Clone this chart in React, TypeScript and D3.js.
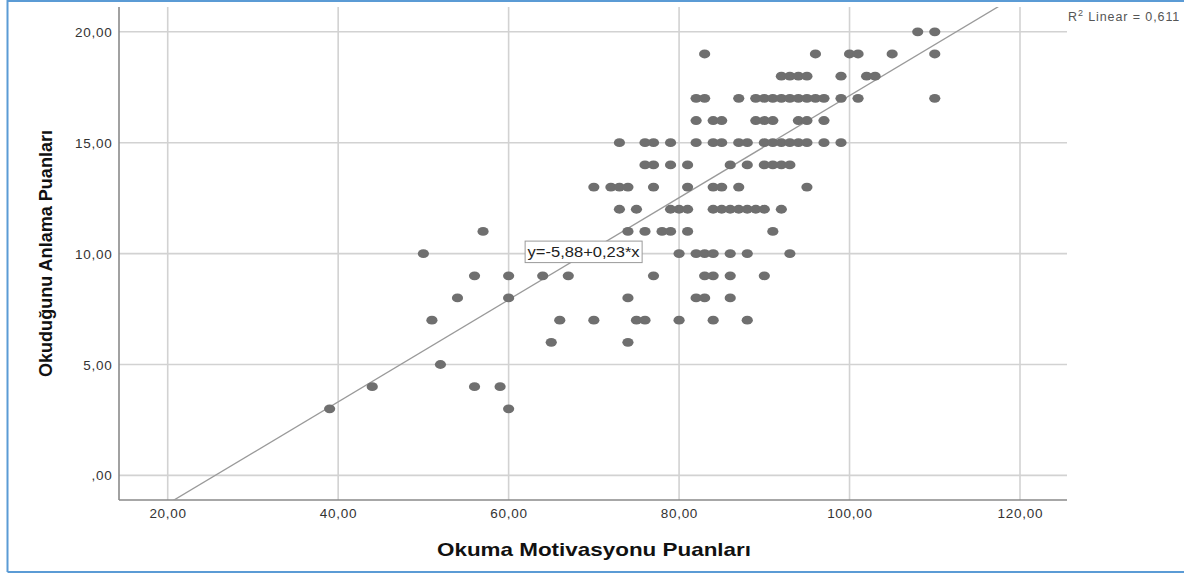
import React from "react";
import * as d3 from "d3";

// Okuduğunu Anlama Puanları levels (y) and the Okuma Motivasyonu Puanları (x) observed at each level
const comprehensionLevels = [3, 4, 5, 6, 7, 8, 9, 10, 11, 12, 13, 14, 15, 16, 17, 18, 19, 20];
const motivationByLevel: number[][] = [
  [39, 60],
  [44, 56, 59],
  [52],
  [65, 74],
  [51, 66, 70, 75, 76, 80, 84, 88],
  [54, 60, 74, 82, 83, 86],
  [56, 60, 64, 67, 77, 83, 84, 86, 90],
  [50, 80, 82, 83, 84, 86, 88, 93],
  [57, 74, 76, 78, 79, 81, 91],
  [73, 75, 79, 80, 81, 84, 85, 86, 87, 88, 89, 90, 92],
  [70, 72, 73, 74, 77, 81, 84, 85, 87, 95],
  [76, 77, 79, 81, 86, 88, 90, 91, 92, 93],
  [73, 76, 77, 79, 82, 84, 85, 87, 88, 90, 91, 92, 93, 94, 95, 97, 99],
  [82, 84, 85, 89, 90, 91, 94, 95, 97],
  [82, 83, 87, 89, 90, 91, 92, 93, 94, 95, 96, 97, 99, 101, 110],
  [92, 93, 94, 95, 99, 102, 103],
  [83, 96, 100, 101, 105, 110],
  [108, 110],
];

const xTicks = [20, 40, 60, 80, 100, 120];
const yTicks = [0, 5, 10, 15, 20];
const intercept = -5.88;
const slope = 0.23;
const rSquared = "0,611";

const W = 1184;
const H = 573;
const plotLeft = 119;
const plotRight = 1067;
const plotTop = 7;
const plotBottom = 500;

const FONT = "'Liberation Sans', Arial, sans-serif";

const fmt = (v: number) => (v === 0 ? ",00" : v.toFixed(2).replace(".", ","));

export default function App() {
  const x = d3.scaleLinear().domain([20, 120]).range([167.7, 1020]);
  const y = d3.scaleLinear().domain([0, 20]).range([475.4, 31.8]);

  const points = comprehensionLevels.flatMap((lvl, i) =>
    motivationByLevel[i].map((m) => ({ m, lvl }))
  );

  const xMin = x.invert(plotLeft);
  const xMax = x.invert(plotRight);
  const line = d3
    .line<number>()
    .x((d) => x(d))
    .y((d) => y(intercept + slope * d));

  const labelX = 68.8;
  const labelY = 10;

  return (
    <svg
      width={W}
      height={H}
      style={{ position: "absolute", left: 0, top: 0, background: "#fff" }}
      fontFamily={FONT}
    >
      <defs>
        <clipPath id="plotClip">
          <rect x={plotLeft} y={plotTop} width={plotRight - plotLeft} height={plotBottom - plotTop} />
        </clipPath>
      </defs>
      <rect x={0} y={0} width={W} height={H} fill="#fff" />
      {/* frame */}
      <line x1={7.5} y1={0} x2={7.5} y2={572} stroke="#5b9bd5" strokeWidth={2} />
      <line x1={7.5} y1={1} x2={W} y2={1} stroke="#5b9bd5" strokeWidth={2} />
      <line x1={7.5} y1={572} x2={W} y2={572} stroke="#5b9bd5" strokeWidth={2} />

      {/* grid */}
      {xTicks.map((t) => (
        <line key={"gx" + t} x1={x(t)} x2={x(t)} y1={plotTop} y2={plotBottom} stroke="#d2d2d2" strokeWidth={1.6} />
      ))}
      {yTicks.map((t) => (
        <line key={"gy" + t} x1={plotLeft} x2={plotRight} y1={y(t)} y2={y(t)} stroke="#d2d2d2" strokeWidth={1.6} />
      ))}

      {/* axes */}
      <line x1={plotLeft} x2={plotLeft} y1={plotTop} y2={plotBottom} stroke="#8a8a8a" strokeWidth={1.6} />
      <line x1={plotLeft} x2={plotRight} y1={plotBottom} y2={plotBottom} stroke="#8a8a8a" strokeWidth={1.6} />

      {/* tick labels */}
      {xTicks.map((t) => (
        <text key={"tx" + t} x={x(t) + 0.35} y={518} textAnchor="middle" fontSize={13.5} letterSpacing={0.7} fill="#333">
          {fmt(t)}
        </text>
      ))}
      {yTicks.map((t) => (
        <text key={"ty" + t} x={112.4} y={y(t) + 5} textAnchor="end" fontSize={13.5} letterSpacing={0.7} fill="#333">
          {fmt(t)}
        </text>
      ))}

      {/* regression line */}
      <g clipPath="url(#plotClip)">
        <path d={line([xMin, xMax]) || ""} fill="none" stroke="#9a9a9a" strokeWidth={1.3} />
      </g>

      {/* points */}
      {points.map((p, i) => (
        <ellipse key={i} cx={x(p.m)} cy={y(p.lvl)} rx={5.6} ry={4.4} fill="#6f6f6f" />
      ))}

      {/* equation label */}
      <g>
        <rect x={x(labelX) - 58.5} y={y(labelY) - 12.5} width={117} height={21.5} fill="#fff" stroke="#9a9a9a" strokeWidth={1} />
        <text x={x(labelX)} y={y(labelY) + 3.5} textAnchor="middle" fontSize={14} textLength={112} lengthAdjust="spacingAndGlyphs" fill="#222">
          y=-5,88+0,23*x
        </text>
      </g>

      {/* R2 */}
      <text x={1068} y={20.5} fontSize={12.5} letterSpacing={0.9} fill="#555">
        R<tspan dy={-4.5} fontSize={9}>2</tspan>
        <tspan dy={4.5}> Linear = {rSquared}</tspan>
      </text>

      {/* axis titles */}
      <text x={594} y={556} textAnchor="middle" fontSize={18.5} fontWeight="bold" fill="#111" textLength={314} lengthAdjust="spacingAndGlyphs">
        Okuma Motivasyonu Puanları
      </text>
      <text
        transform={`translate(52,253.5) rotate(-90)`}
        textAnchor="middle"
        fontSize={17.5}
        fontWeight="bold"
        fill="#111"
        textLength={247}
        lengthAdjust="spacingAndGlyphs"
      >
        Okuduğunu Anlama Puanları
      </text>
    </svg>
  );
}
